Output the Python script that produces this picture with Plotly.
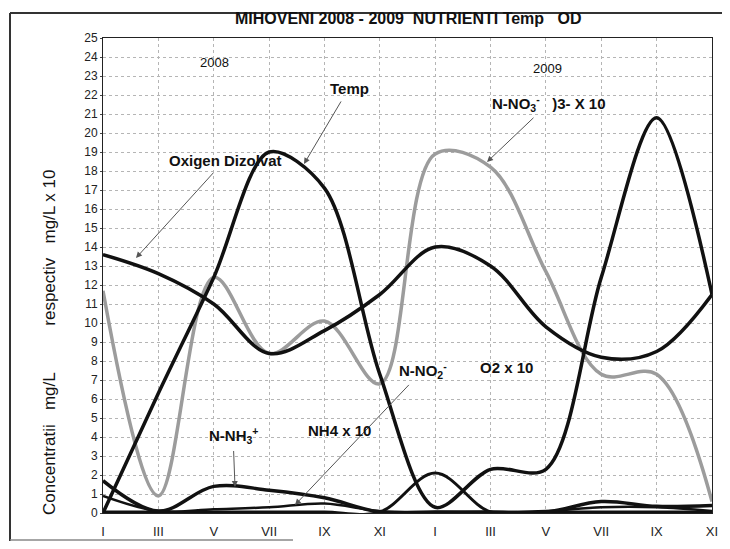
import plotly.graph_objects as go

# ---- data ----
month_labels = ["I", "III", "V", "VII", "IX", "XI", "I", "III", "V", "VII", "IX", "XI"]
month_pos = [0, 2, 4, 6, 8, 10, 12, 14, 16, 18, 20, 22]

temp = [0.0, 6.3, 12.4, 19.0, 17.1, 7.3, 0.3, 2.3, 2.3, 12.4, 20.8, 11.5]
oxigen = [13.6, 12.6, 11.0, 8.4, 9.6, 11.5, 14.0, 13.0, 9.8, 8.2, 8.5, 11.5]
no3_x10 = [11.7, 0.9, 12.4, 8.4, 10.1, 6.8, 18.9, 18.2, 12.7, 7.3, 7.3, 0.6]
nh4_x10 = [1.7, 0.1, 1.4, 1.2, 0.8, 0.05, 0.05, 0.05, 0.05, 0.6, 0.35, 0.4]
no2_x10 = [0.05, 0.05, 0.05, 0.05, 0.05, 0.05, 2.1, 0.05, 0.05, 0.05, 0.05, 0.05]
other_x10 = [0.9, 0.1, 0.2, 0.3, 0.5, 0.1, 0.05, 0.05, 0.1, 0.3, 0.3, 0.1]

y_ticks = list(range(0, 26))

title_text = "MIHOVENI 2008 - 2009  NUTRIENTI Temp   OD"
y_title = "Concentratii   mg/L          respectiv   mg/L x 10"

FONT = "Liberation Sans, Arial, sans-serif"

fig = go.Figure()

def add_line(y, name, color, width, smoothing=1.0):
    fig.add_trace(go.Scatter(
        x=month_pos, y=y, name=name, mode="lines",
        line=dict(color=color, width=width, shape="spline", smoothing=smoothing),
        showlegend=False, hoverinfo="skip"))

add_line(no3_x10, "N-NO3 x 10", "#9c9c9c", 3.5)
add_line(other_x10, "alt", "#111111", 2.5)
add_line(no2_x10, "N-NO2 x 10", "#111111", 3.0)
add_line(nh4_x10, "N-NH4 x 10", "#111111", 3.5)
add_line(oxigen, "Oxigen Dizolvat", "#111111", 3.5)
add_line(temp, "Temp", "#111111", 3.5, smoothing=0.9)

# reference-pixel -> data helpers (plot area in the picture: x 103..712, y 38..513)
def dx(px):
    return (px - 103) / 609 * 22

def dy(py):
    return (513 - py) / 475 * 25

def px_paper(px):
    return (px - 103) / 609

def py_paper(py):
    return (513 - py) / 475

annotations = []

def label(px, py, text, size=15, bold=True, head=None):
    a = dict(text=("<b>%s</b>" % text) if bold else text,
             font=dict(family=FONT, size=size, color="#111111"),
             xanchor="center", yanchor="middle", xref="x", yref="y")
    if head is None:
        a.update(x=dx(px), y=dy(py), showarrow=False)
    else:
        a.update(x=dx(head[0]), y=dy(head[1]), ax=dx(px), ay=dy(py),
                 axref="x", ayref="y", showarrow=True, arrowhead=2,
                 arrowsize=1.2, arrowwidth=1, arrowcolor="#555555",
                 standoff=0, startstandoff=4)
    annotations.append(a)

label(214, 62, "2008", size=13, bold=False)
label(547, 68, "2009", size=13, bold=False)
label(349, 88, "Temp", size=15, head=(304, 164))
label(225, 160, "Oxigen Dizolvat", size=15, head=(136, 258))
label(549, 103, "N-NO<sub>3</sub><sup>-</sup>   )3- X 10", size=15, head=(487, 162))
label(423, 370, "N-NO<sub>2</sub><sup>-</sup>", size=15, head=(295, 505))
label(506, 367, "O2 x 10", size=15)
label(233, 435, "N-NH<sub>3</sub><sup>+</sup>", size=15, head=(235, 487))
label(339, 430, "NH4 x 10", size=15)

# title
annotations.append(dict(
    x=px_paper(408), y=py_paper(19), xref="paper", yref="paper",
    text="<b>%s</b>" % title_text, showarrow=False,
    font=dict(family=FONT, size=16, color="#111111"),
    xanchor="center", yanchor="middle"))

# y axis title
annotations.append(dict(
    x=px_paper(49), y=py_paper(342), xref="paper", yref="paper",
    text=y_title, showarrow=False, textangle=-90,
    font=dict(family=FONT, size=17, color="#111111"),
    xanchor="center", yanchor="middle"))

frame = dict(color="#333333", width=2)
shapes = [
    dict(type="line", xref="paper", yref="paper", x0=px_paper(10), x1=px_paper(10),
         y0=py_paper(541), y1=py_paper(13), line=frame, layer="above"),
    dict(type="line", xref="paper", yref="paper", x0=px_paper(10), x1=px_paper(729),
         y0=py_paper(13), y1=py_paper(13), line=frame, layer="above"),
    dict(type="line", xref="paper", yref="paper", x0=px_paper(10), x1=px_paper(293),
         y0=py_paper(540), y1=py_paper(540), line=dict(color="#888888", width=1.5), layer="above"),
]

# the page body has an 8px margin, so the figure is offset by 8px;
# keep the figure small enough that no scrollbar appears
fig.update_layout(
    width=722, height=533,
    margin=dict(l=95, r=18, t=30, b=28, autoexpand=False),
    paper_bgcolor="white", plot_bgcolor="white",
    annotations=annotations, shapes=shapes,
    font=dict(family=FONT, color="#111111"),
)

fig.update_xaxes(
    range=[0, 22], tickmode="array", tickvals=month_pos, ticktext=month_labels,
    showgrid=True, gridcolor="#b5b5b5", griddash="dot", gridwidth=1,
    showline=True, linecolor="#222222", linewidth=1, mirror=True,
    ticks="outside", ticklen=6, tickcolor="#ffffff", automargin=False,
    tickfont=dict(family=FONT, size=13, color="#222222"), zeroline=False)

fig.update_yaxes(
    range=[0, 25], tickmode="array", tickvals=y_ticks,
    showgrid=True, gridcolor="#b5b5b5", griddash="dot", gridwidth=1,
    showline=True, linecolor="#222222", linewidth=1, mirror=True,
    ticks="outside", ticklen=2, tickcolor="#444444", automargin=False,
    tickfont=dict(family=FONT, size=12, color="#222222"), zeroline=False)

fig.write_html("out.html")
